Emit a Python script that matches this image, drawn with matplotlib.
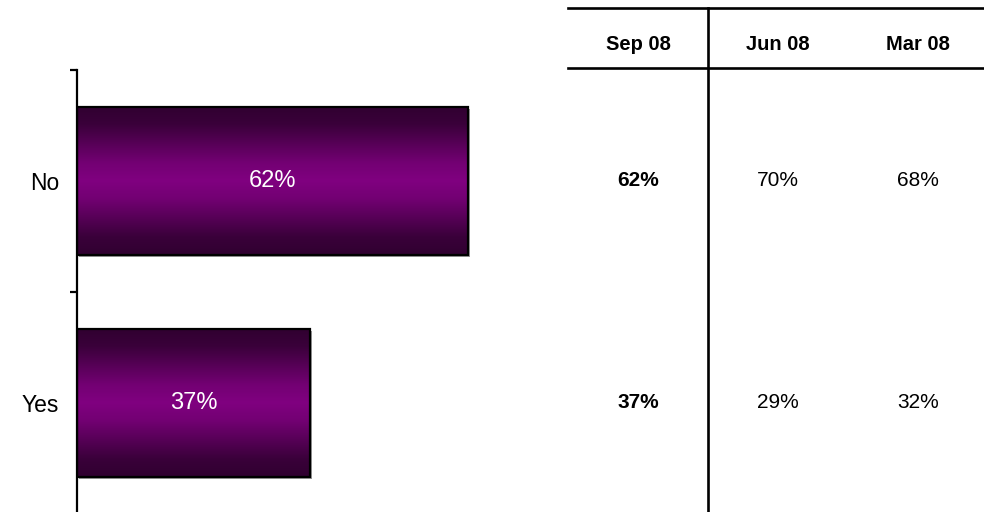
import numpy as np
import matplotlib
matplotlib.use("Agg")
import matplotlib.pyplot as plt
from matplotlib.colors import LinearSegmentedColormap
from matplotlib.lines import Line2D
from matplotlib.transforms import blended_transform_factory, offset_copy

plt.rcParams['font.family'] = ['Liberation Sans', 'DejaVu Sans']

# Survey answers and the three quarterly readings
categories = ["No", "Yes"]
periods = ["Sep 08", "Jun 08", "Mar 08"]
sep_08 = [62, 37]
jun_08 = [70, 29]
mar_08 = [68, 32]

W, H = 984, 512
fig = plt.figure(figsize=(W / 100, H / 100), dpi=100)
fig.patch.set_facecolor("white")

def fx(px):
    return px / W

def fy(py):
    return 1 - py / H

# Bar panel: spans pixel x 77..708, y 70..514
ax = fig.add_axes([fx(77), fy(514), fx(708) - fx(77), (514 - 70) / H])
ax.set_facecolor("none")

ypos = np.arange(len(categories))
bar_h = 0.667

# Soft grey drop shadow, shifted slightly right and down
shadow_tf = offset_copy(ax.transData, fig=fig, x=2, y=-2, units="dots")
ax.barh(ypos, sep_08, height=bar_h, color="#9a9a9a", linewidth=0,
        transform=shadow_tf, zorder=1)

bars = ax.barh(ypos, sep_08, height=bar_h, color="none", edgecolor="black",
               linewidth=1.6, zorder=3)

# Vertical purple gradient: dark at top/bottom edges, bright in the middle
cmap = LinearSegmentedColormap.from_list(
    "plum", [(0.0, "#300030"), (0.12, "#3a003a"), (0.38, "#730073"),
             (0.5, "#800080"), (0.62, "#730073"), (0.88, "#3a003a"), (1.0, "#300030")])
grad = np.linspace(0, 1, 256).reshape(-1, 1)
for rect, y, v in zip(bars, ypos, sep_08):
    im = ax.imshow(grad, cmap=cmap, aspect="auto",
                   extent=[0, v, y + bar_h / 2, y - bar_h / 2], zorder=2,
                   interpolation="bilinear")
    im.set_clip_path(rect)
    ax.text(v / 2, y, f"{v}%", ha="center", va="center", color="white",
            fontsize=17, zorder=4)

ax.set_xlim(0, 100)
ax.set_ylim(len(categories) - 0.5, -0.5)

for s in ["top", "right", "bottom"]:
    ax.spines[s].set_visible(False)
ax.spines["left"].set_linewidth(1.6)
ax.spines["left"].set_zorder(5)
ax.set_xticks([])
ax.set_yticks(ypos)
ax.set_yticklabels(categories, fontsize=16.5)
ax.tick_params(axis="y", which="major", length=0, pad=13)
ax.set_yticks(np.arange(-0.5, len(categories)), minor=True)
ax.tick_params(axis="y", which="minor", length=5, width=1.6, direction="out")

# Table of quarterly values to the right
lw = 1.9
fig.add_artist(Line2D([fx(568), 1], [fy(7.5), fy(7.5)], color="black", lw=lw))
fig.add_artist(Line2D([fx(568), 1], [fy(68), fy(68)], color="black", lw=lw))
fig.add_artist(Line2D([fx(708), fx(708)], [fy(7.5), 0], color="black", lw=lw))

col_x = [638, 778, 918]
for cx, name in zip(col_x, periods):
    fig.text(fx(cx), fy(44), name, ha="center", va="center", fontsize=14.5,
             fontweight="bold")

row_tf = blended_transform_factory(fig.transFigure, ax.transData)
for col, (cx, values) in enumerate(zip(col_x, [sep_08, jun_08, mar_08])):
    for y, v in zip(ypos, values):
        fig.text(fx(cx), y, f"{v}%", transform=row_tf, ha="center", va="center",
                 fontsize=15, fontweight="bold" if col == 0 else "normal")

fig.savefig("out.png", dpi=100, facecolor="white")
